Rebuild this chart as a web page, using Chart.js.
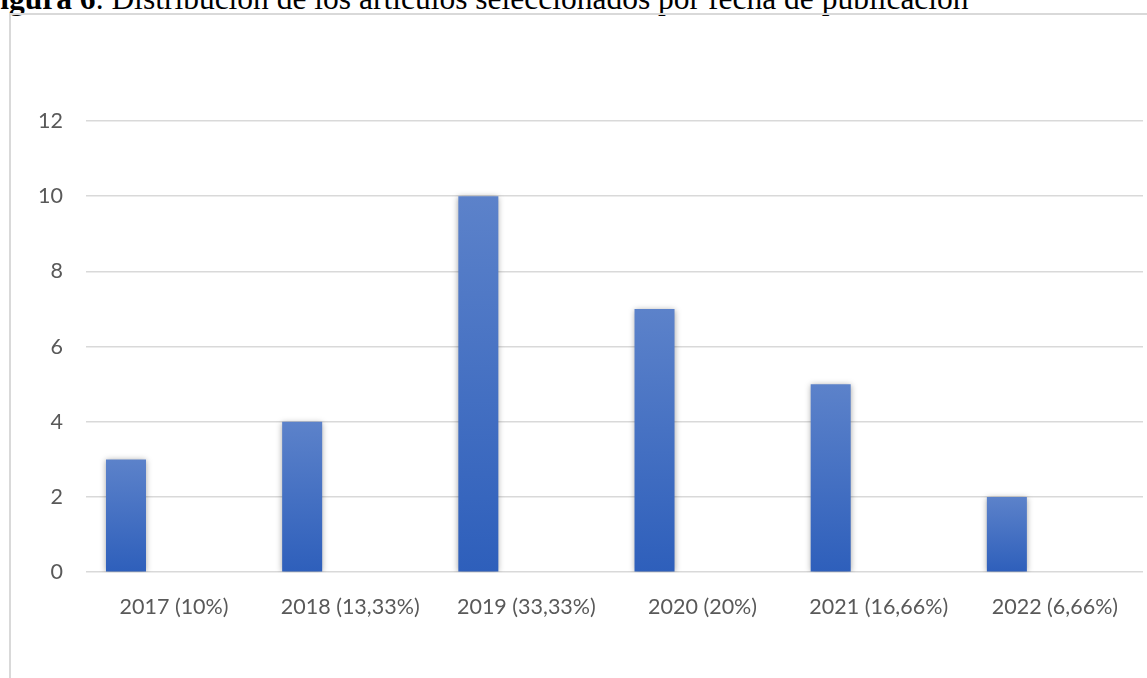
<!DOCTYPE html>
<html>
<head>
<meta charset="utf-8">
<script src="https://cdn.jsdelivr.net/npm/chart.js@4"></script>
<style>
  html, body { margin: 0; padding: 0; background: #fff; overflow: hidden; }
  #title {
    position: absolute; left: -19px; top: -17px;
    font-family: "Liberation Serif", "Times New Roman", serif;
    font-size: 31.5px; line-height: 31px; color: #000; white-space: nowrap;
  }
  #frame {
    position: absolute; left: 9px; top: 13px; width: 1300px; height: 900px;
    border: 2px solid #d9d9d9; box-sizing: border-box;
  }
  #wrap { position: absolute; left: 0; top: 0; width: 1147px; height: 678px; }
</style>
</head>
<body>
<div id="title"><b>Figura 6</b>. Distribución de los artículos seleccionados por fecha de publicación</div>
<div id="frame"></div>
<div id="wrap"><canvas id="chart"></canvas></div>
<script>
// data
const categories = ['2017 (10%)', '2018 (13,33%)', '2019 (33,33%)', '2020 (20%)', '2021 (16,66%)', '2022 (6,66%)'];
const articles = [3, 4, 10, 7, 5, 2];
const emptySeries = [null, null, null, null, null, null];
const yTicks = [0, 2, 4, 6, 8, 10, 12];

document.addEventListener("DOMContentLoaded", () => {
    const ctx = document.getElementById('chart').getContext('2d');

    // each bar gets its own vertical gradient, lighter at the top
    function barGradient(context) {
        const chart = context.chart;
        if (!chart.chartArea || context.raw == null) return '#3f6fc4';
        const y = chart.scales.y;
        const top = y.getPixelForValue(context.raw);
        const bottom = y.getPixelForValue(0);
        const g = chart.ctx.createLinearGradient(0, top, 0, bottom);
        g.addColorStop(0, '#5c82ca');
        g.addColorStop(1, '#2e5fbb');
        return g;
    }

    // soft shadow around bars
    const barShadow = {
        id: 'barShadow',
        beforeDatasetsDraw(chart) {
            const c = chart.ctx;
            c.save();
            c.shadowColor = 'rgba(0,0,0,0.35)';
            c.shadowBlur = 6;
            c.shadowOffsetX = 0;
            c.shadowOffsetY = 1;
        },
        afterDatasetsDraw(chart) {
            chart.ctx.restore();
        }
    };

    new Chart(ctx, {
        type: 'bar',
        data: {
            labels: categories,
            datasets: [
                { label: 'Artículos', data: articles, backgroundColor: barGradient, borderWidth: 0 },
                { label: '', data: emptySeries },
                { label: '', data: emptySeries }
            ]
        },
        options: {
            responsive: true,
            maintainAspectRatio: false,
            animation: false,
            categoryPercentage: 0.818,
            barPercentage: 0.833,
            layout: { padding: { left: 15, right: 4, top: 121, bottom: 44 } },
            plugins: {
                legend: { display: false },
                tooltip: { enabled: false }
            },
            scales: {
                x: {
                    grid: { display: false },
                    border: { display: false },
                    ticks: {
                        color: '#595959', padding: 14, maxRotation: 0,
                        font: { family: "Lato, 'Open Sans', sans-serif", size: 21.5 }
                    }
                },
                y: {
                    min: 0, max: 12,
                    afterBuildTicks(axis) { axis.ticks = yTicks.map(v => ({ value: v })); },
                    grid: { color: '#d9d9d9', lineWidth: 1.5, drawTicks: false },
                    border: { display: false },
                    ticks: {
                        color: '#595959', padding: 23,
                        font: { family: "Lato, 'Open Sans', sans-serif", size: 21.5 }
                    }
                }
            }
        },
        plugins: [barShadow]
    });
});
</script>
</body>
</html>
